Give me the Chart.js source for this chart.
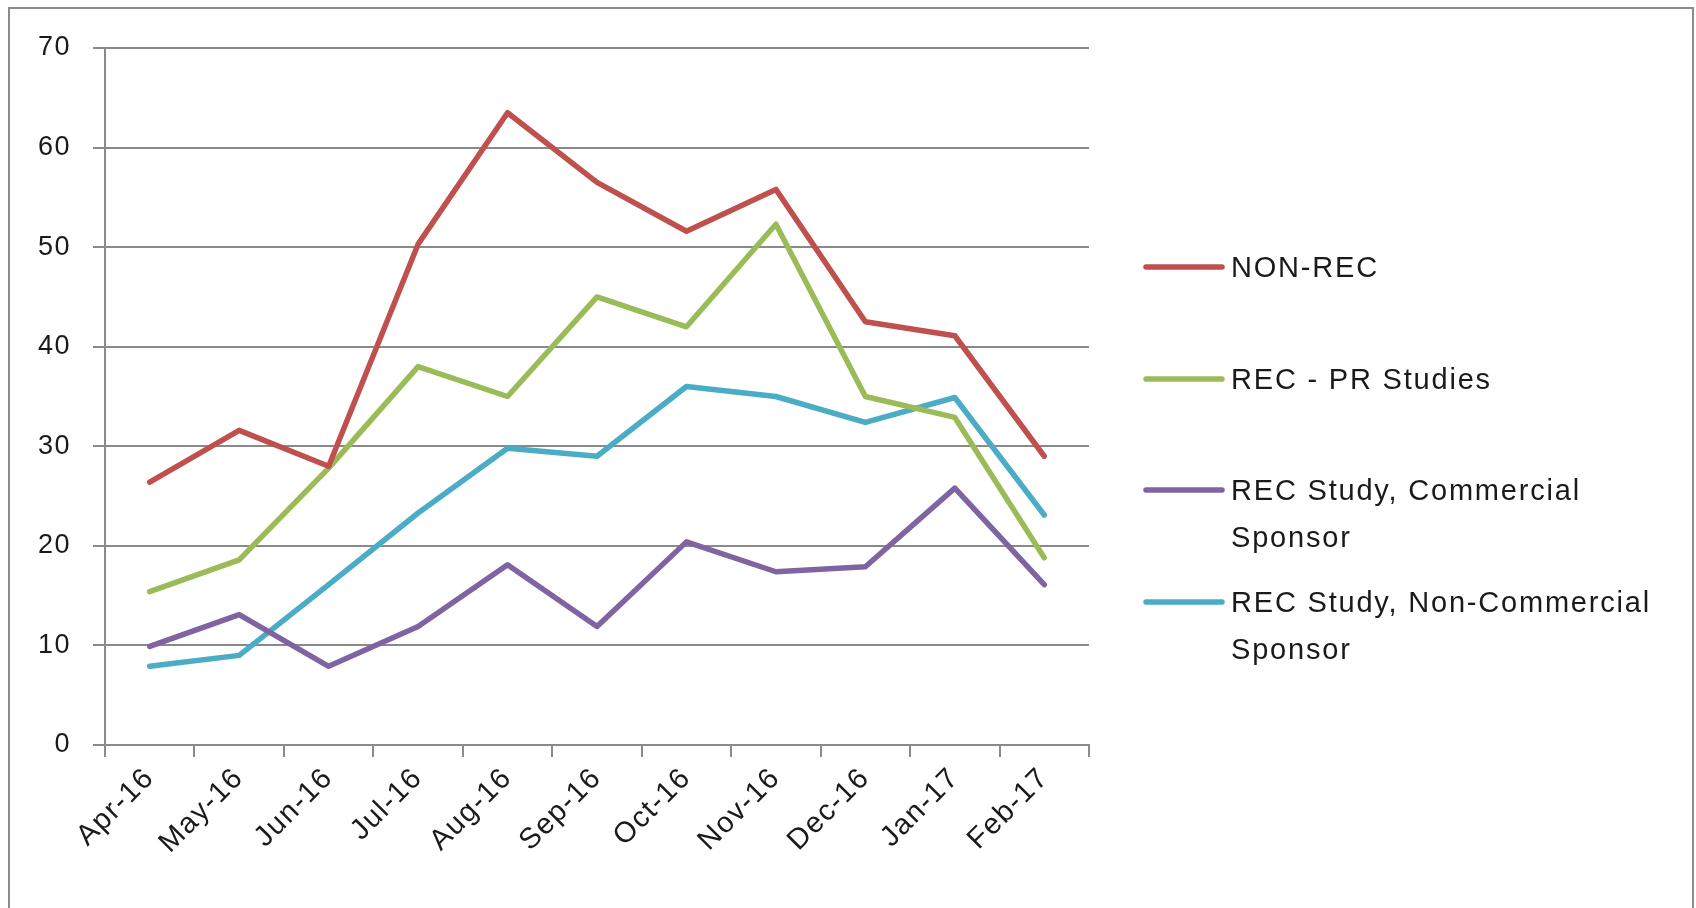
<!DOCTYPE html>
<html>
<head>
<meta charset="utf-8">
<script src="https://cdn.jsdelivr.net/npm/chart.js@4/dist/chart.umd.min.js"></script>
<style>
  body { margin: 0; background: #fff; }
  #wrap { width: 1696px; height: 908px; position: relative; }
</style>
</head>
<body>
<div id="wrap"><canvas id="lineChart"></canvas></div>
<script>
const months = ['Apr-16', 'May-16', 'Jun-16', 'Jul-16', 'Aug-16', 'Sep-16', 'Oct-16', 'Nov-16', 'Dec-16', 'Jan-17', 'Feb-17'];

const nonRec = [26.4, 31.6, 28.0, 50.3, 63.5, 56.5, 51.6, 55.8, 42.5, 41.1, 29.0];
const recPr = [15.4, 18.6, 27.8, 38.0, 35.0, 45.0, 42.0, 52.3, 35.0, 32.9, 18.8];
const recCommercial = [9.9, 13.1, 7.9, 11.9, 18.1, 11.9, 20.4, 17.4, 17.9, 25.8, 16.1];
const recNonCommercial = [7.9, 9.0, 16.1, 23.3, 29.8, 29.0, 36.0, 35.0, 32.4, 34.9, 23.1];

// legend text, one entry per line as it wraps in the original
const seriesLabels = [
    ['NON-REC'],
    ['REC - PR Studies'],
    ['REC Study, Commercial', 'Sponsor'],
    ['REC Study, Non-Commercial', 'Sponsor']
];
const seriesColors = ['#C0504D', '#9BBB59', '#8064A2', '#4BACC6'];
const yTicks = [0, 10, 20, 30, 40, 50, 60, 70];

const FONT = '"Liberation Sans", Arial, sans-serif';
const gridGrey = '#8a8a8a';

// frame round the whole chart, plus a bit of letter spacing for the axis text
const framePlugin = {
    id: 'frame',
    beforeDraw(chart) {
        const c = chart.ctx;
        c.save();
        c.strokeStyle = '#8c8c8c';
        c.lineWidth = 2;
        c.strokeRect(9, 8, 1684, 920);
        c.restore();
        c.letterSpacing = '1.5px';
    }
};

// legend on the right with wrapped labels
const sideLegend = {
    id: 'sideLegend',
    afterDraw(chart) {
        const c = chart.ctx;
        const lineX1 = 1146, lineX2 = 1222, textX = 1231;
        const tops = [267, 379, 490, 602];
        c.save();
        c.font = '29px ' + FONT;
        c.letterSpacing = '1.8px';
        c.fillStyle = '#1a1a1a';
        c.textBaseline = 'middle';
        c.textAlign = 'left';
        chart.data.datasets.forEach((ds, i) => {
            const y = tops[i];
            c.strokeStyle = ds.borderColor;
            c.lineWidth = 5.5;
            c.lineCap = 'round';
            c.beginPath();
            c.moveTo(lineX1, y);
            c.lineTo(lineX2, y);
            c.stroke();
            seriesLabels[i].forEach((t, k) => {
                c.fillText(t, textX, y + 2 + k * 47);
            });
        });
        c.restore();
    }
};

const ctx = document.getElementById('lineChart').getContext('2d');
const series = [nonRec, recPr, recCommercial, recNonCommercial];

new Chart(ctx, {
    type: 'line',
    data: {
        labels: months,
        datasets: series.map((d, i) => ({
            label: seriesLabels[i].join(' '),
            data: d,
            borderColor: seriesColors[i],
            backgroundColor: seriesColors[i],
            borderWidth: 5.5,
            pointRadius: 0,
            tension: 0,
            borderJoinStyle: 'round',
            borderCapStyle: 'round'
        }))
    },
    options: {
        responsive: true,
        maintainAspectRatio: false,
        animation: false,
        layout: {
            padding: { top: 48, right: 607, bottom: 0, left: 0 }
        },
        scales: {
            x: {
                offset: true,
                afterFit: (s) => { s.height = 163; },
                grid: {
                    offset: true,
                    drawOnChartArea: false,
                    color: gridGrey,
                    lineWidth: 2,
                    tickLength: 12
                },
                border: { color: gridGrey, width: 2 },
                ticks: {
                    minRotation: 45,
                    maxRotation: 45,
                    padding: 4,
                    color: '#1a1a1a',
                    font: { family: FONT, size: 29 }
                }
            },
            y: {
                min: 0,
                max: 70,
                afterFit: (s) => { s.width = 105; },
                afterBuildTicks: (s) => { s.ticks = yTicks.map(v => ({ value: v })); },
                grid: {
                    color: gridGrey,
                    lineWidth: 2,
                    tickLength: 12
                },
                border: { color: gridGrey, width: 2 },
                ticks: {
                    padding: 22,
                    color: '#1a1a1a',
                    font: { family: FONT, size: 27 }
                }
            }
        },
        plugins: {
            legend: { display: false },
            tooltip: { enabled: false }
        }
    },
    plugins: [framePlugin, sideLegend]
});
</script>
</body>
</html>
